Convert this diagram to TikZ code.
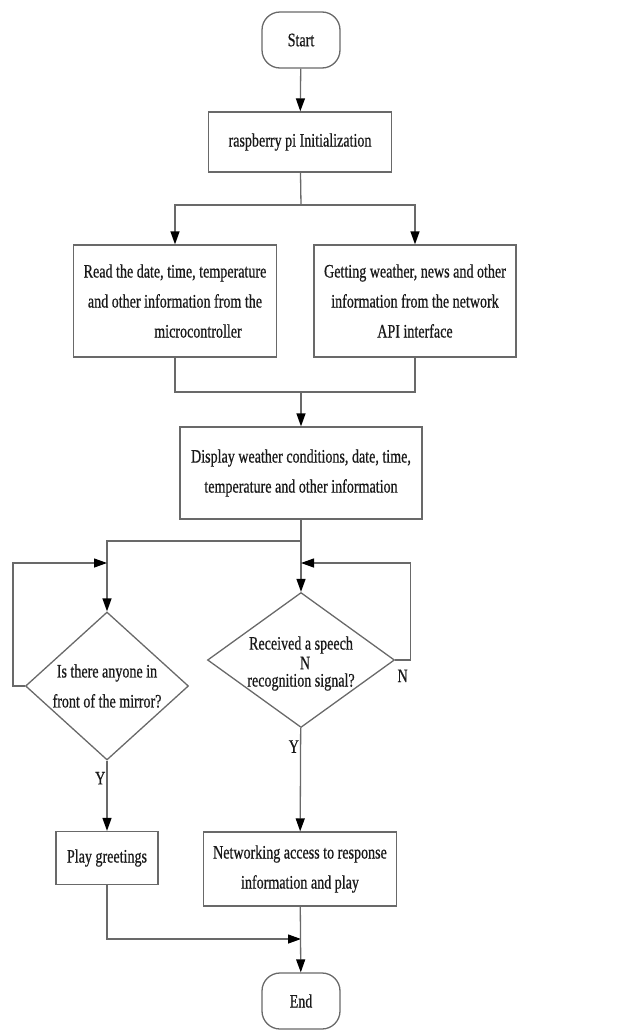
\documentclass[tikz,border=0pt]{standalone}
\usepackage{fontspec}
\setmainfont{Liberation Serif}[FakeStretch=0.74,FakeBold=0.6]
\usepackage{tikz}
\usetikzlibrary{arrows.meta,shapes.geometric}
\definecolor{FlowLine}{RGB}{105,105,105}
\definecolor{FlowText}{RGB}{25,25,25}

\begin{document}
\begin{tikzpicture}[x=1pt,y=-1pt,line width=1.3pt,
   font=\fontsize{19}{30}\selectfont,text=FlowText,
   term/.style={draw=FlowLine,rounded corners=18pt,minimum width=78pt,minimum height=56pt,inner sep=0pt},
   proc/.style n args={2}{draw=FlowLine,rectangle,align=center,minimum width=#1pt,minimum height=#2pt,inner sep=0pt},
   dia/.style n args={2}{draw=FlowLine,diamond,minimum width=#1pt,minimum height=#2pt,inner sep=0pt},
   arr/.style={draw=FlowLine,-{Triangle[length=13pt,width=9pt,color=black]}},
   lbl/.style={inner sep=1pt}]
\useasboundingbox (0,0) rectangle (617,1031);
\node[term](start) at (301,40) {Start};
\node[proc={183}{60}](init) at (300,142) {raspberry pi Initialization};
\node[proc={203}{112}](read) at (175,301) {Read the date, time, temperature\\and other information from the\\\hspace*{46pt}microcontroller};
\node[proc={202}{112}](getinfo) at (415,301) {Getting weather, news and other\\information from the network\\API interface};
\node[proc={242}{92}](disp) at (301,473) {Display weather conditions, date, time,\\temperature and other information};
\node[dia={163}{148}](q1) at (107,686) {};
\node[align=center] at (q1) {Is there anyone in\\front of the mirror?};
\node[dia={187}{135}](q2) at (301,660) {};
\node[inner sep=0pt] (q2top) at (301,645) {Received a speech};
\node[inner sep=0pt] (q2bot) at (301,682) {recognition signal?};
\node[inner sep=0pt] (strayn) at (305,663) {N};
\node[proc={102}{53}](play) at (107,858) {Play greetings};
\node[proc={193}{74}](net) at (300,869) {Networking access to response\\information and play};
\node[term](end) at (301,1001) {End};
\coordinate (split1) at (301,205);
\coordinate (merge) at (301,392);
\coordinate (split2) at (301,541);
\coordinate (loop1) at (107,563);
\coordinate (loop2) at (301,563);
\coordinate (join) at (301,939);
\draw[arr] (start) -- (init);
\draw[draw=FlowLine] (init) -- (split1);
\draw[arr] (split1) -| (read);
\draw[arr] (split1) -| (getinfo);
\draw[draw=FlowLine] (read) |- (merge);
\draw[draw=FlowLine] (getinfo) |- (merge);
\draw[arr] (merge) -- (disp);
\draw[arr] (disp) -- (q2);
\draw[arr] (split2) -| (q1);
\draw[arr] (q1.west) -- ++(-12,0) |- (loop1);
\draw[arr] (q2.east) -- node[lbl,below=8pt]{N} ++(15,0) |- (loop2);
\draw[arr] (q1) -- node[lbl,left,pos=0.25]{Y} (play);
\draw[arr] (q2) -- node[lbl,left,pos=0.18]{Y} (net);
\draw[arr] (play) |- (join);
\draw[arr] (net) -- (end);
\end{tikzpicture}
\end{document}
